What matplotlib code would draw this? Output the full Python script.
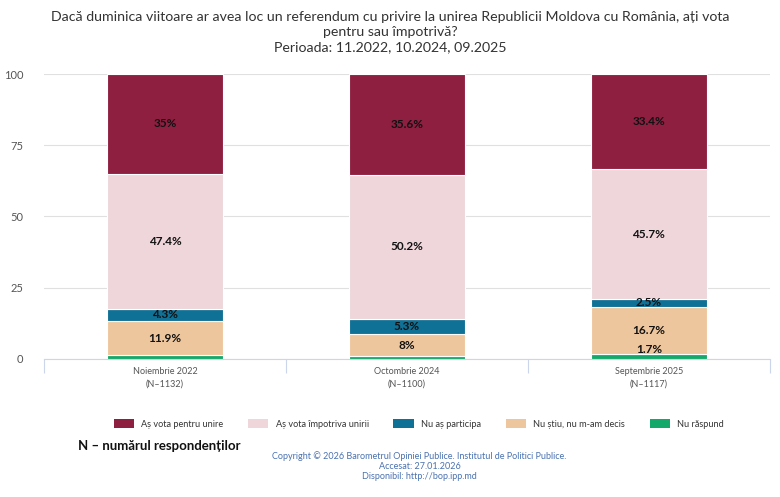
import numpy as np
import matplotlib
matplotlib.use("Agg")
import matplotlib.pyplot as plt
from matplotlib.patches import Patch

plt.rcParams['font.family'] = ['Lato', 'DejaVu Sans']

categories = ["Noiembrie 2022\n(N–1132)", "Octombrie 2024\n(N–1100)", "Septembrie 2025\n(N–1117)"]
series_names = ["Aș vota pentru unire", "Aș vota împotriva unirii", "Nu aș participa",
                "Nu știu, nu m-am decis", "Nu răspund"]
pentru = [35, 35.6, 33.4]
impotriva = [47.4, 50.2, 45.7]
nu_particip = [4.3, 5.3, 2.5]
nu_stiu = [11.9, 8, 16.7]
nu_raspund = [1.4, 0.9, 1.7]
colors = ["#8e1f41", "#efd6db", "#0f7196", "#eec69d", "#15a86b"]

# stacking order bottom -> top
stack = [nu_raspund, nu_stiu, nu_particip, impotriva, pentru]
stack_colors = colors[::-1]

fig = plt.figure(figsize=(7.8, 4.97), dpi=100)
ax = fig.add_axes([0.0564, 0.2777, 0.9306, 0.5734])

x = np.arange(len(categories))
bottom = np.zeros(len(categories))
for vals, col in zip(stack, stack_colors):
    vals = np.array(vals, dtype=float)
    ax.bar(x, vals, bottom=bottom, width=0.48, color=col, edgecolor="white", linewidth=0.8, zorder=3)
    for xi, b, v in zip(x, bottom, vals):
        if v >= 1.5:
            yc = max(b + v / 2, 3.2)
            ax.text(xi, yc, f"{v:g}%", ha="center", va="center", fontsize=8.5,
                    fontweight="bold", color="#111111", zorder=4)
    bottom += vals

ax.set_xlim(-0.5, len(categories) - 0.5)
ax.set_ylim(0, 100)
ax.set_yticks([0, 25, 50, 75, 100])
ax.yaxis.grid(True, color="#e0e0e0", linewidth=0.8, zorder=0)
ax.tick_params(axis="y", length=0, labelsize=8, labelcolor="#555555", pad=15)
ax.set_xticks(x)
ax.set_xticklabels(categories, fontsize=6.5, color="#555555", linespacing=1.5)
ax.tick_params(axis="x", length=0, pad=6)
ax.set_xticks(np.arange(len(categories) + 1) - 0.5, minor=True)
ax.tick_params(axis="x", which="minor", length=10, color="#ccd6eb", width=0.8)
for s in ["top", "right", "left"]:
    ax.spines[s].set_visible(False)
ax.spines["bottom"].set_color("#ccd6eb")
ax.spines["bottom"].set_linewidth(0.8)

fig.text(0.5, 0.978, "Dacă duminica viitoare ar avea loc un referendum cu privire la unirea Republicii Moldova cu România, ați vota\npentru sau împotrivă?\nPerioada: 11.2022, 10.2024, 09.2025",
         ha="center", va="top", fontsize=10.2, color="#333333", linespacing=1.3)

handles = [Patch(facecolor=c, edgecolor="none") for c in colors]
fig.legend(handles, series_names, loc="center", bbox_to_anchor=(0.537, 0.147), ncol=5,
           frameon=False, fontsize=6.6, handlelength=2.2, handleheight=1.0,
           columnspacing=2.7, handletextpad=0.8, labelcolor="#333333")

fig.text(0.1, 0.102, "N – numărul respondenților", ha="left", va="center",
         fontsize=9.5, fontweight="bold", color="#111111")
fig.text(0.538, 0.062, "Copyright © 2026 Barometrul Opiniei Publice. Institutul de Politici Publice.\nAccesat: 27.01.2026\nDisponibil: http://bop.ipp.md",
         ha="center", va="center", fontsize=6.5, color="#4a72b0", linespacing=1.1)

fig.savefig("out.png", dpi=100)
